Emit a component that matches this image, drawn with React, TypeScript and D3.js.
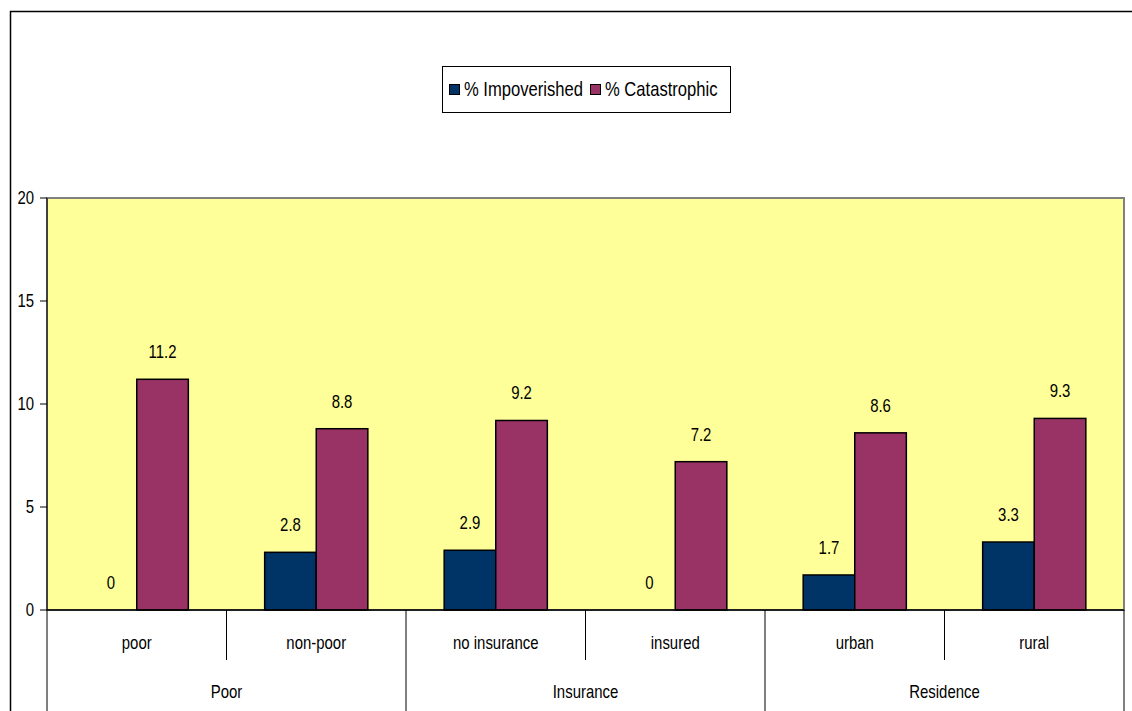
import * as d3 from "d3";

const WIDTH = 1132;
const HEIGHT = 711;
const PLOT = { left: 47, right: 1124, top: 198, bottom: 610 };

const categories = ["poor", "non-poor", "no insurance", "insured", "urban", "rural"];
const groups = [
  { name: "Poor", size: 2 },
  { name: "Insurance", size: 2 },
  { name: "Residence", size: 2 },
];
const seriesNames = ["% Impoverished", "% Catastrophic"];
const impoverished = [0, 2.8, 2.9, 0, 1.7, 3.3];
const catastrophic = [11.2, 8.8, 9.2, 7.2, 8.6, 9.3];
const yTicks = [0, 5, 10, 15, 20];

const COLORS = ["#003366", "#993366"];
const FONT = "'Liberation Sans', Arial, sans-serif";
const SQUEEZE = 0.83;

// narrow-looking text: no condensed face is installed, so squeeze horizontally
function Txt({ x, y, anchor = "middle", size = 17, children }: any) {
  return (
    <text
      transform={`translate(${x},${y}) scale(${SQUEEZE},1)`}
      textAnchor={anchor}
      dominantBaseline="central"
      fontFamily={FONT}
      fontSize={size}
    >
      {children}
    </text>
  );
}

export default function App() {
  const x = d3.scaleBand<string>().domain(categories).range([PLOT.left, PLOT.right]);
  const inner = d3
    .scaleBand<string>()
    .domain(seriesNames)
    .range([0, x.bandwidth()])
    .paddingInner(0)
    .paddingOuter(0.74);
  const y = d3.scaleLinear().domain([0, 20]).range([PLOT.bottom, PLOT.top]);

  const values = [impoverished, catastrophic];

  let idx = 0;
  const groupSpans = groups.map((g) => {
    const start = idx;
    idx += g.size;
    return { ...g, x0: x(categories[start])!, x1: x(categories[idx - 1])! + x.bandwidth() };
  });

  return (
    <svg width={WIDTH} height={HEIGHT} style={{ position: "absolute", left: 0, top: 0 }}>
      <rect x={0} y={0} width={WIDTH} height={HEIGHT} fill="#fff" />
      <rect x={10.5} y={11.5} width={WIDTH + 10} height={HEIGHT + 10} fill="none" stroke="#000" strokeWidth={1.5} />

      {/* legend */}
      <rect x={442.5} y={66.5} width={288} height={46} fill="#fff" stroke="#000" strokeWidth={1} />
      <rect x={449.5} y={84.5} width={10} height={10} fill={COLORS[0]} stroke="#000" />
      <Txt x={464} y={89} anchor="start" size={20}>{seriesNames[0]}</Txt>
      <rect x={590.5} y={84.5} width={10} height={10} fill={COLORS[1]} stroke="#000" />
      <Txt x={605} y={89} anchor="start" size={20}>{seriesNames[1]}</Txt>

      {/* plot area */}
      <rect
        x={PLOT.left}
        y={PLOT.top}
        width={PLOT.right - PLOT.left}
        height={PLOT.bottom - PLOT.top}
        fill="#FFFF99"
        stroke="#808080"
        strokeWidth={2}
      />

      {/* y axis */}
      <line x1={PLOT.left} x2={PLOT.left} y1={PLOT.top} y2={HEIGHT} stroke="#000" />
      {yTicks.map((t) => (
        <g key={t}>
          <line x1={PLOT.left - 7} x2={PLOT.left} y1={y(t)} y2={y(t)} stroke="#000" />
          <Txt x={PLOT.left - 13} y={y(t)} anchor="end" size={18}>
            {t}
          </Txt>
        </g>
      ))}

      {/* bars */}
      {categories.map((c, i) => (
        <g key={c}>
          {seriesNames.map((s, j) => {
            const v = values[j][i];
            const bx = x(c)! + inner(s)!;
            return (
              <g key={s}>
                {v > 0 && (
                  <rect
                    x={bx}
                    y={y(v)}
                    width={inner.bandwidth()}
                    height={y(0) - y(v)}
                    fill={COLORS[j]}
                    stroke="#000"
                    strokeWidth={1.5}
                  />
                )}
                <Txt x={bx + inner.bandwidth() / 2} y={y(v) - 27} size={18}>
                  {v}
                </Txt>
              </g>
            );
          })}
        </g>
      ))}

      {/* x axis */}
      <line x1={PLOT.left} x2={PLOT.right} y1={y(0)} y2={y(0)} stroke="#000" strokeWidth={1.5} />
      {categories.map((c, i) => (
        <g key={c}>
          {i % 2 === 1 && <line x1={x(c)!} x2={x(c)!} y1={y(0)} y2={660} stroke="#000" />}
          <Txt x={x(c)! + x.bandwidth() / 2} y={643} size={18}>
            {c}
          </Txt>
        </g>
      ))}
      {groupSpans.map((g) => (
        <g key={g.name}>
          <line x1={g.x1} x2={g.x1} y1={y(0)} y2={HEIGHT} stroke="#000" />
          <Txt x={(g.x0 + g.x1) / 2} y={692} size={18}>
            {g.name}
          </Txt>
        </g>
      ))}
    </svg>
  );
}
